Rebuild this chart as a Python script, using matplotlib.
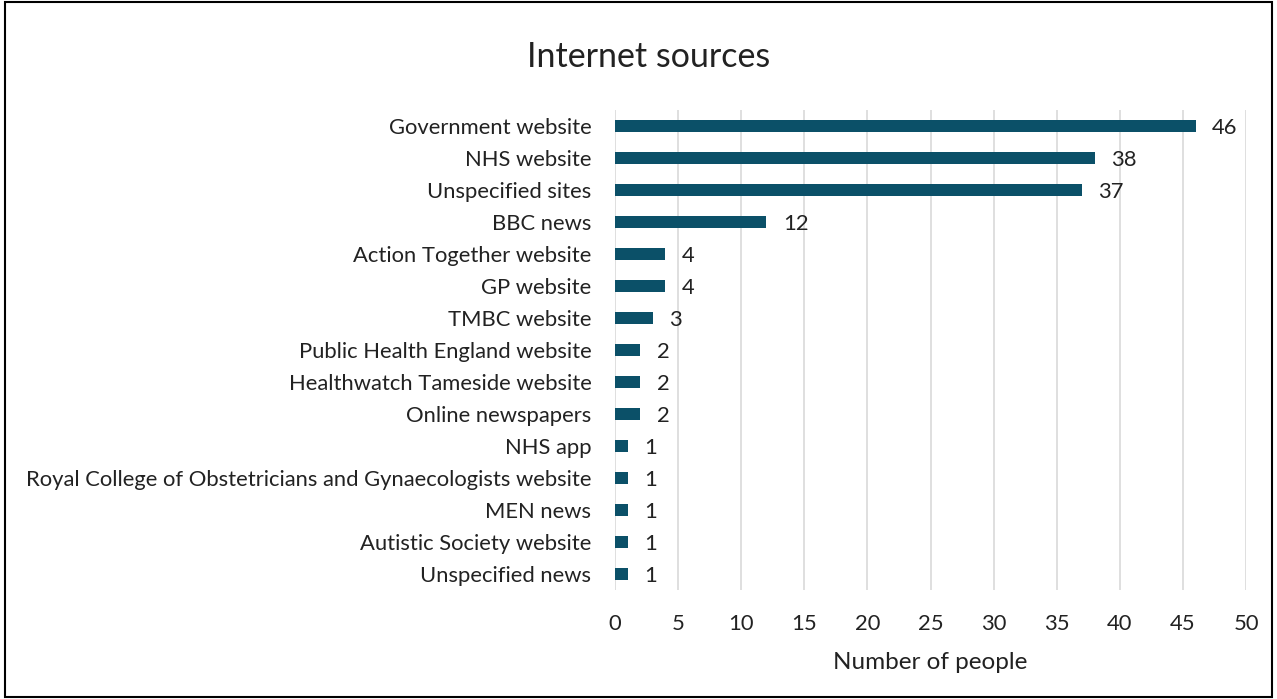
import matplotlib
matplotlib.use("Agg")
from matplotlib import pyplot as plt
from matplotlib.patches import Rectangle

# data, top to bottom as shown
sources = [
    "Government website",
    "NHS website",
    "Unspecified sites",
    "BBC news",
    "Action Together website",
    "GP website",
    "TMBC website",
    "Public Health England website",
    "Healthwatch Tameside website",
    "Online newspapers",
    "NHS app",
    "Royal College of Obstetricians and Gynaecologists website",
    "MEN news",
    "Autistic Society website",
    "Unspecified news",
]
people = [46, 38, 37, 12, 4, 4, 3, 2, 2, 2, 1, 1, 1, 1, 1]
x_ticks = [0, 5, 10, 15, 20, 25, 30, 35, 40, 45, 50]

plt.rcParams["font.family"] = ["Lato", "DejaVu Sans"]
fs = 15.8

fig = plt.figure(figsize=(12.77, 6.99), dpi=100)
ax = fig.add_axes([615 / 1277, 1 - 590 / 699, 631 / 1277, 480 / 699])

pos = list(range(len(sources)))
ax.barh(pos, people, height=0.38, color="#0B5068", zorder=3)
for p, v in zip(pos, people):
    ax.text(v + 1.3, p + 0.06, str(v), va="center", ha="left", fontsize=fs, color="#222222")

ax.set_ylim(len(sources) - 0.5, -0.5)
ax.set_xlim(0, 50)
ax.set_yticks(pos)
ax.set_yticklabels(sources, fontsize=fs, color="#222222")
ax.set_xticks(x_ticks)
ax.set_xticklabels([str(t) for t in x_ticks], fontsize=fs, color="#222222")
ax.tick_params(axis="both", length=0)
ax.tick_params(axis="y", pad=17)
ax.tick_params(axis="x", pad=17)
ax.grid(axis="x", color="#D9D9D9", linewidth=1.2, zorder=0)
for s in ax.spines.values():
    s.set_visible(False)
ax.set_xlabel("Number of people", fontsize=17.5, color="#222222", labelpad=13)

fig.text(649 / 1277, 1 - 57 / 699, "Internet sources", ha="center", va="center",
         fontsize=24.5, color="#222222")

fig.patches.append(Rectangle((0.004, 0.003), 0.992, 0.994, transform=fig.transFigure,
                             fill=False, edgecolor="black", linewidth=1.5))

fig.savefig("out.png", dpi=100)
